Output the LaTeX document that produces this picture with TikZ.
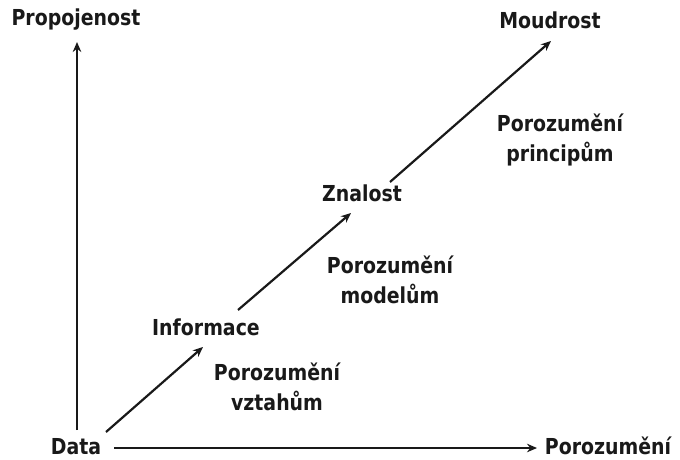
\documentclass[tikz,border=0pt]{standalone}
\usepackage{fontspec}
\setmainfont{DejaVu Sans}[BoldFont={DejaVu Sans Bold}, BoldFeatures={FakeStretch=0.86}]
\usetikzlibrary{arrows.meta}
\begin{document}
\begin{tikzpicture}[x=1pt,y=-1pt,
  lbl/.style={font=\fontsize{22}{26}\selectfont\bfseries, inner sep=0pt, text=black!90, align=center},
  twoline/.style={lbl, font=\fontsize{22}{30}\selectfont\bfseries},
  arr/.style={-{Stealth[length=10pt,width=8.5pt]}, line width=2.2pt, black!90}]
\useasboundingbox (0,0) rectangle (680,460);
\node[lbl] (prop) at (76,20) {Propojenost};
\node[lbl, anchor=base] (data) at (76,454) {Data};
\node[lbl, anchor=base] (poro) at (608,454) {Porozumění};
\node[lbl] (info) at (206,327) {Informace};
\node[lbl] (znal) at (362,193) {Znalost};
\node[lbl] (moud) at (550,20) {Moudrost};
\node[twoline] (pvz) at (277,387) {Porozumění\\vztahům};
\node[twoline] (pmo) at (390,280) {Porozumění\\modelům};
\node[twoline] (ppr) at (560,140) {Porozumění\\principům};
\coordinate (vs) at (77,430);
\coordinate (vt) at (77,42);
\coordinate (hs) at (114,448);
\coordinate (ht) at (537,448);
\coordinate (a1s) at (106,432);
\coordinate (a1t) at (203,347);
\coordinate (a2s) at (238,310);
\coordinate (a2t) at (351,213);
\coordinate (a3s) at (390,182);
\coordinate (a3t) at (551,41);
\draw[arr] (vs) -- (vt);
\draw[arr] (hs) -- (ht);
\draw[arr] (a1s) -- (a1t);
\draw[arr] (a2s) -- (a2t);
\draw[arr] (a3s) -- (a3t);
\end{tikzpicture}
\end{document}
